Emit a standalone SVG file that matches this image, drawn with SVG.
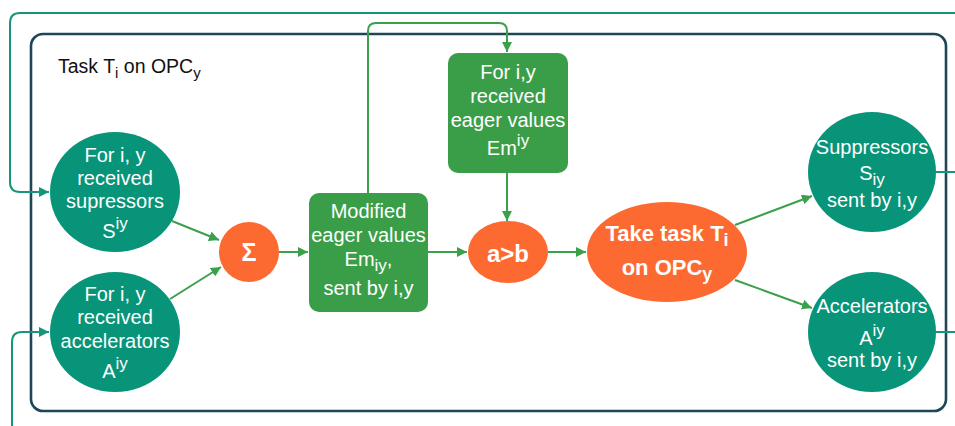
<svg xmlns="http://www.w3.org/2000/svg" width="955" height="426" viewBox="0 0 955 426">
<defs>
<style>
text{font-family:"Liberation Sans",Arial,sans-serif;}
.w{fill:#fff;font-size:20px;text-anchor:middle;}
.b{fill:#fff;font-weight:bold;text-anchor:middle;}
.teal{fill:#079479;}
.green{fill:#3a9e48;}
.orange{fill:#fd6a31;}
.cg{fill:none;stroke:#3aa14a;stroke-width:2;}
.ct{fill:none;stroke:#14957c;stroke-width:2;}
.sup{font-size:17px;}
</style>
<marker id="ag" viewBox="0 0 10 10" refX="10" refY="5" markerWidth="5" markerHeight="5" orient="auto" markerUnits="strokeWidth">
<path d="M0,0 L10,5 L0,10 z" fill="#3aa14a"/>
</marker>
<marker id="at" viewBox="0 0 10 10" refX="10" refY="5" markerWidth="5" markerHeight="5" orient="auto" markerUnits="strokeWidth">
<path d="M0,0 L10,5 L0,10 z" fill="#14957c"/>
</marker>
</defs>
<rect width="955" height="426" fill="#fff"/>
<g id="frame">
<rect x="31" y="34" width="915" height="377" rx="12" fill="none" stroke="#1d4757" stroke-width="2.6"/>
<text x="58" y="73" font-size="19.500" fill="#111">Task T<tspan font-size="15" dy="5">i</tspan><tspan dy="-5"> on OPC</tspan><tspan font-size="15" dy="5">y</tspan></text>
</g>
<g id="connectors">
<path class="ct" d="M955,13 H20 Q10,13 10,23 V182 Q10,192 20,192 H49" marker-end="url(#at)"/>
<path class="ct" d="M12,426 V342 Q12,332 22,332 H49" marker-end="url(#at)"/>
<path class="ct" d="M936,172 H955"/>
<path class="ct" d="M936,332 H955"/>
<path class="cg" d="M172,221 L219,240" marker-end="url(#ag)"/>
<path class="cg" d="M170,299 L221,267" marker-end="url(#ag)"/>
<path class="cg" d="M279,252 H308" marker-end="url(#ag)"/>
<path class="cg" d="M428,252 H467" marker-end="url(#ag)"/>
<path class="cg" d="M548,252 H586" marker-end="url(#ag)"/>
<path class="cg" d="M368,193 V31 Q368,23 376,23 H499 Q507,23 507,31 V52" marker-end="url(#ag)"/>
<path class="cg" d="M507,173 V221" marker-end="url(#ag)"/>
<path class="cg" d="M735,225 L812,196" marker-end="url(#ag)"/>
<path class="cg" d="M735,280 L812,308" marker-end="url(#ag)"/>
</g>
<g id="n-sup-in">
<ellipse class="teal" cx="115" cy="192" rx="65" ry="60"/>
<text class="w" x="115" y="162">For i, y</text>
<text class="w" x="115" y="185">received</text>
<text class="w" x="115" y="208">supressors</text>
<text class="w" x="115" y="238">S<tspan class="sup" dy="-9">iy</tspan></text>
</g>
<g id="n-acc-in">
<ellipse class="teal" cx="115" cy="332" rx="65" ry="60"/>
<text class="w" x="115" y="301">For i, y</text>
<text class="w" x="115" y="324">received</text>
<text class="w" x="115" y="348">accelerators</text>
<text class="w" x="115" y="378">A<tspan class="sup" dy="-9">iy</tspan></text>
</g>
<g id="n-sigma">
<circle class="orange" cx="249" cy="252" r="30"/>
<text class="b" x="249" y="261" font-size="25">Σ</text>
</g>
<g id="n-modified">
<rect class="green" x="309" y="193" width="119" height="119" rx="10"/>
<text class="w" x="368.500" y="218">Modified</text>
<text class="w" x="368.500" y="242">eager values</text>
<text class="w" x="368.500" y="266">Em<tspan class="sup" dy="5">iy</tspan><tspan dy="-5">,</tspan></text>
<text class="w" x="368.500" y="295">sent by i,y</text>
</g>
<g id="n-received-eager">
<rect class="green" x="448" y="53" width="120" height="120" rx="10"/>
<text class="w" x="508" y="79">For i,y</text>
<text class="w" x="508" y="103">received</text>
<text class="w" x="508" y="127">eager values</text>
<text class="w" x="508" y="155">Em<tspan class="sup" dy="-9">iy</tspan></text>
</g>
<g id="n-compare">
<ellipse class="orange" cx="508" cy="252" rx="40" ry="31"/>
<text class="b" x="508" y="262" font-size="24">a&gt;b</text>
</g>
<g id="n-take">
<ellipse class="orange" cx="667" cy="252" rx="80" ry="50"/>
<text class="b" x="667" y="241" font-size="22">Take task T<tspan font-size="18" dy="5">i</tspan></text>
<text class="b" x="667" y="275" font-size="22">on OPC<tspan font-size="18" dy="5">y</tspan></text>
</g>
<g id="n-sup-out">
<ellipse class="teal" cx="872" cy="172" rx="64" ry="60"/>
<text class="w" x="872" y="154">Suppressors</text>
<text class="w" x="872" y="180">S<tspan class="sup" dy="5">iy</tspan></text>
<text class="w" x="872" y="207">sent by i,y</text>
</g>
<g id="n-acc-out">
<ellipse class="teal" cx="872" cy="332" rx="64" ry="60"/>
<text class="w" x="872" y="313">Accelerators</text>
<text class="w" x="872" y="345">A<tspan class="sup" dy="-9">iy</tspan></text>
<text class="w" x="872" y="367">sent by i,y</text>
</g>
</svg>
